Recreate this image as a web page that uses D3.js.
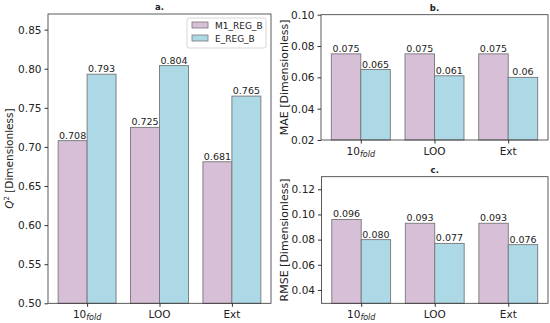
<!DOCTYPE html>
<html><head><meta charset="utf-8">
<script src="https://cdn.jsdelivr.net/npm/d3@7"></script>
<style>body{margin:0;background:#fff}svg{display:block}text{font-family:"DejaVu Sans",sans-serif}</style>
</head><body><svg id="c" width="550" height="323"></svg>
<script>
const categories = ["10fold", "LOO", "Ext"];
const series = ["M1_REG_B", "E_REG_B"];
const colors = ["#d8bfd8", "#add8e6"];
const q2M1 = [0.708, 0.725, 0.681];
const q2E = [0.793, 0.804, 0.765];
const q2Labels = [["0.708","0.725","0.681"],["0.793","0.804","0.765"]];
const maeM1 = [0.075, 0.075, 0.075];
const maeE = [0.065, 0.061, 0.060];
const maeLabels = [["0.075","0.075","0.075"],["0.065","0.061","0.06"]];
const rmseM1 = [0.096, 0.093, 0.093];
const rmseE = [0.080, 0.077, 0.076];
const rmseLabels = [["0.096","0.093","0.093"],["0.080","0.077","0.076"]];
const q2Ticks = [0.50,0.55,0.60,0.65,0.70,0.75,0.80,0.85];
const maeTicks = [0.02,0.04,0.06,0.08,0.10];
const rmseTicks = [0.04,0.06,0.08,0.10,0.12];

const svg = d3.select("#c");
const axisColor = "#333";

function panel(o){
  const g = svg.append("g");
  const x = d3.scaleLinear().domain([-0.54, 2.54]).range([o.x0, o.x1]);
  const y = d3.scaleLinear().domain(o.domain).range([o.y1, o.y0]);
  const bw = 0.4;
  const data = [o.a, o.b];
  data.forEach((arr, s) => {
    arr.forEach((v, i) => {
      const xl = x(i - bw + s*bw), xr = x(i + s*bw);
      g.append("rect").attr("x", xl).attr("y", y(v)).attr("width", xr-xl).attr("height", y(o.domain[0]) - y(v))
        .attr("fill", colors[s]).attr("stroke", "#777").attr("stroke-width", 0.9);
      g.append("text").attr("x", (xl+xr)/2).attr("y", y(v) - 2).attr("text-anchor","middle")
        .attr("font-size", 9.5).attr("fill","#222").text(o.labels[s][i]);
    });
  });
  g.append("rect").attr("x", o.x0).attr("y", o.y0).attr("width", o.x1-o.x0).attr("height", o.y1-o.y0)
    .attr("fill","none").attr("stroke", axisColor).attr("stroke-width", 0.8);
  const ya = g.append("g").attr("transform", `translate(${o.x0},0)`)
    .call(d3.axisLeft(y).tickValues(o.ticks).tickFormat(d3.format(".2f")).tickSize(3.5).tickPadding(3));
  ya.select(".domain").remove();
  ya.selectAll("line").attr("stroke", axisColor);
  ya.selectAll("text").attr("font-size", 10.5).attr("fill","#222").style("font-family","DejaVu Sans");
  const xa = g.append("g").attr("transform", `translate(0,${o.y1})`)
    .call(d3.axisBottom(x).tickValues([0,1,2]).tickFormat("").tickSize(3.5));
  xa.select(".domain").remove();
  xa.selectAll("line").attr("stroke", axisColor);
  categories.forEach((c, i) => {
    const t = g.append("text").attr("x", x(i)).attr("y", o.y1 + 15).attr("text-anchor","middle")
      .attr("font-size", 10.5).attr("fill","#222");
    if (c === "10fold") {
      t.append("tspan").text("10");
      t.append("tspan").attr("font-size", 8).attr("font-style","italic").attr("dy", 2).text("fold");
    } else t.text(c);
  });
  g.append("text").attr("x", (o.x0+o.x1)/2).attr("y", o.y0 - 4).attr("text-anchor","middle")
    .attr("font-size", 8.5).attr("font-weight","bold").attr("fill","#222").text(o.title);
  const yl = g.append("text").attr("transform", `translate(${o.lx},${(o.y0+o.y1)/2}) rotate(-90)`)
    .attr("text-anchor","middle").attr("font-size", o.lfs).attr("fill","#222");
  if (o.q2) {
    yl.append("tspan").attr("font-style","italic").text("Q");
    yl.append("tspan").attr("font-size", 7).attr("dy", -4).text("2");
    yl.append("tspan").attr("dy", 4).text(" [Dimensionless]");
  } else yl.text(o.ylabel);
  return {g, x, y};
}

panel({x0:48, x1:271, y0:14, y1:303.3, domain:[0.5, 0.87], ticks:q2Ticks, a:q2M1, b:q2E, labels:q2Labels, title:"a.", lx:13, lfs:10.5, q2:true});
panel({x0:321, x1:548, y0:14.7, y1:140, domain:[0.02, 0.10], ticks:maeTicks, a:maeM1, b:maeE, labels:maeLabels, title:"b.", lx:288, lfs:11, ylabel:"MAE [Dimensionless]"});
panel({x0:321.5, x1:548, y0:176.7, y1:303.3, domain:[0.0294, 0.13], ticks:rmseTicks, a:rmseM1, b:rmseE, labels:rmseLabels, title:"c.", lx:288, lfs:11, ylabel:"RMSE [Dimensionless]"});

const lg = svg.append("g");
lg.append("rect").attr("x", 187).attr("y", 18).attr("width", 79).attr("height", 30).attr("rx", 2)
  .attr("fill","#fff").attr("fill-opacity",0.8).attr("stroke","#ccc").attr("stroke-width",0.8);
series.forEach((s, i) => {
  lg.append("rect").attr("x", 192).attr("y", 22 + i*13).attr("width", 16).attr("height", 6)
    .attr("fill", colors[i]).attr("stroke","#777").attr("stroke-width",0.8);
  lg.append("text").attr("x", 215).attr("y", 29 + i*13).attr("font-size", 9).attr("fill","#222").text(s);
});
</script></body></html>
